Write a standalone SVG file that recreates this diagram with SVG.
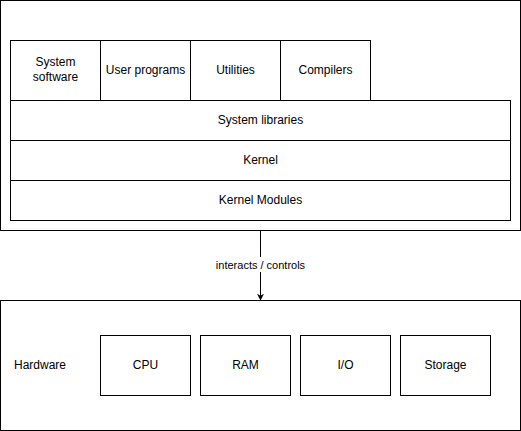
<svg xmlns="http://www.w3.org/2000/svg" width="521" height="431" viewBox="0 0 521 431">
<defs>
<marker id="arrow" viewBox="0 0 10 10" refX="9" refY="5" markerWidth="7" markerHeight="7" markerUnits="userSpaceOnUse" orient="auto">
<path d="M0,0 L10,5 L0,10 L3,5 Z" fill="#000"/>
</marker>
</defs>
<style>
rect{fill:#fff;stroke:#000;stroke-width:1}
text{font-family:"Liberation Sans",Arial,sans-serif;font-size:12px;fill:#000;text-anchor:middle;dominant-baseline:central}
.conn{stroke:#000;stroke-width:1;fill:none}
</style>
<rect x="0" y="0" width="521" height="431" style="stroke:none"/>
<g id="os">
<rect x="0.5" y="0.5" width="520" height="230"/>
</g>
<g id="system-software"><rect x="10.5" y="40.5" width="90" height="60"/><text x="55.5" y="62">System</text><text x="55.5" y="77">software</text></g>
<g id="user-programs"><rect x="100.5" y="40.5" width="90" height="60"/><text x="145.5" y="69.5">User programs</text></g>
<g id="utilities"><rect x="190.5" y="40.5" width="90" height="60"/><text x="235.5" y="69.5">Utilities</text></g>
<g id="compilers"><rect x="280.5" y="40.5" width="90" height="60"/><text x="325.5" y="69.5">Compilers</text></g>
<g id="system-libraries"><rect x="10.5" y="100.5" width="500" height="40"/><text x="260.5" y="119.5">System libraries</text></g>
<g id="kernel"><rect x="10.5" y="140.5" width="500" height="40"/><text x="260.5" y="159.5">Kernel</text></g>
<g id="kernel-modules"><rect x="10.5" y="180.5" width="500" height="40"/><text x="260.5" y="199.5">Kernel Modules</text></g>
<g id="hardware"><rect x="0.5" y="300.5" width="520" height="130"/><text x="14" y="364.5" style="text-anchor:start">Hardware</text></g>
<g id="cpu"><rect x="100.5" y="335.5" width="90" height="60"/><text x="145.5" y="364.5">CPU</text></g>
<g id="ram"><rect x="200.5" y="335.5" width="90" height="60"/><text x="245.5" y="364.5">RAM</text></g>
<g id="io"><rect x="300.5" y="335.5" width="90" height="60"/><text x="345.5" y="364.5">I/O</text></g>
<g id="storage"><rect x="400.5" y="335.5" width="90" height="60"/><text x="445.5" y="364.5">Storage</text></g>
<g id="connectors">
<line class="conn" x1="260.5" y1="231" x2="260.5" y2="300" marker-end="url(#arrow)"/>
<rect x="214" y="257" width="93" height="15" style="stroke:none"/>
<text x="260.5" y="264.5" style="font-size:11px">interacts / controls</text>
</g>
</svg>
